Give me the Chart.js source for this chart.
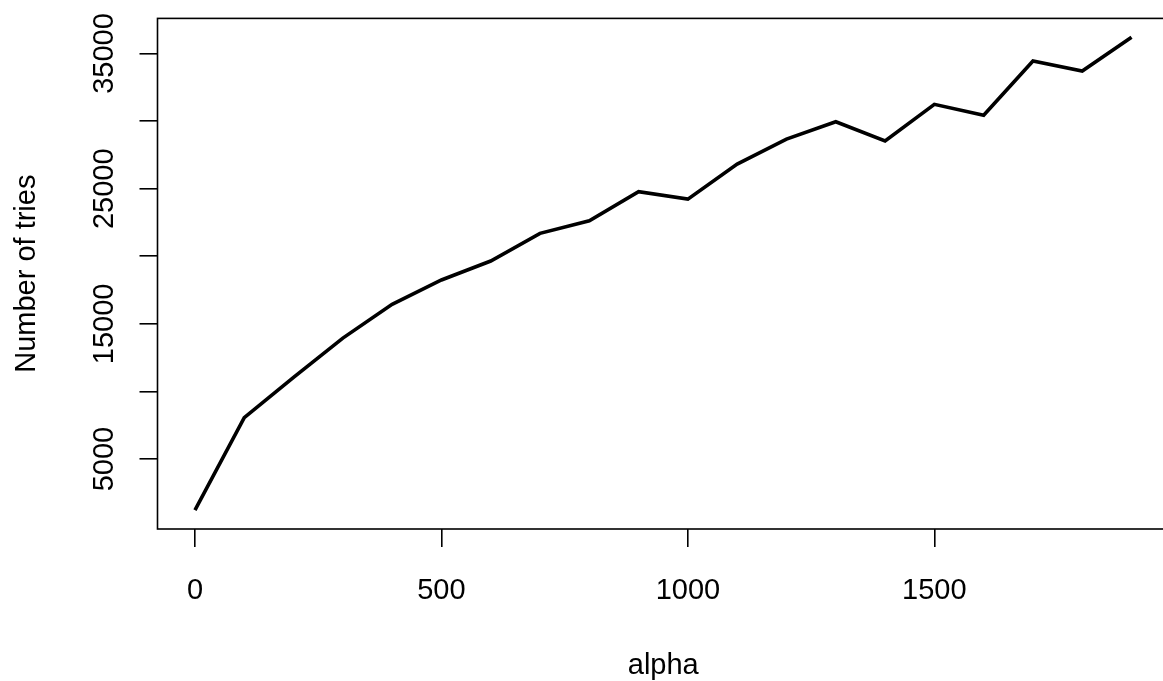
<!DOCTYPE html>
<html lang="en">
<head>
    <meta charset="UTF-8">
    <title>Number of tries vs alpha</title>
    <style>
      body { margin: 0; background: #fff; overflow: hidden; }
      .wrap { width: 1163px; height: 681px; overflow: hidden; }
    </style>
</head>
<body>
  <div class="wrap">
    <canvas id="myChart" width="1175" height="681"></canvas>
  </div>

<script src="https://cdn.jsdelivr.net/npm/chart.js"></script>
<script>

// dados
var lista_alpha = [0, 100, 200, 300, 400, 500, 600, 700, 800, 900, 1000, 1100, 1200, 1300, 1400, 1500, 1600, 1700, 1800, 1900];
var lista_tentativas = [1230, 8060, 11050, 13950, 16450, 18250, 19650, 21700, 22630, 24780, 24230, 26820, 28670, 29950, 28530, 31240, 30430, 34450, 33700, 36200];

var ticks_x = [0, 500, 1000, 1500];
var ticks_y = [5000, 10000, 15000, 20000, 25000, 30000, 35000];
var labels_y = ['5000', '', '15000', '', '25000', '', '35000'];

var fonte = '"Liberation Sans", Arial, Helvetica, sans-serif';

var pontos = [];
for (var i = 0; i < lista_alpha.length; i++) {
  pontos.push({ x: lista_alpha[i], y: lista_tentativas[i] });
}

// moldura e textos no estilo do R
var estilo_r = {
  id: 'estilo_r',
  afterDraw: function (chart) {
    var ctx = chart.ctx;
    var sx = chart.scales.x;
    var sy = chart.scales.y;
    var area = chart.chartArea;

    ctx.save();
    ctx.strokeStyle = '#000';
    ctx.lineWidth = 1.6;
    ctx.strokeRect(area.left, area.top, sx.getPixelForValue(1976) - area.left, area.bottom - area.top);

    ctx.fillStyle = '#000';
    ctx.font = '29px ' + fonte;

    // labels do eixo x
    ctx.textAlign = 'center';
    ctx.textBaseline = 'alphabetic';
    for (var i = 0; i < ticks_x.length; i++) {
      ctx.fillText(String(ticks_x[i]), sx.getPixelForValue(ticks_x[i]), 599);
    }
    ctx.fillText('alpha', (area.left + sx.getPixelForValue(1976)) / 2, 674);

    // labels do eixo y (girados)
    for (var j = 0; j < ticks_y.length; j++) {
      if (labels_y[j] === '') continue;
      ctx.save();
      ctx.translate(113, sy.getPixelForValue(ticks_y[j]));
      ctx.rotate(-Math.PI / 2);
      ctx.fillText(labels_y[j], 0, 0);
      ctx.restore();
    }
    ctx.save();
    ctx.translate(35, (area.top + area.bottom) / 2);
    ctx.rotate(-Math.PI / 2);
    ctx.fillText('Number of tries', 0, 0);
    ctx.restore();

    ctx.restore();
  }
};

const ctx = document.getElementById('myChart');

new Chart(ctx, {
  type: 'line',
  data: {
    datasets: [{
      label: 'Number of tries',
      data: pontos,
      borderColor: '#000',
      borderWidth: 3.6,
      pointRadius: 0,
      tension: 0,
      fill: false
    }]
  },
  options: {
    responsive: false,
    animation: false,
    layout: {
      padding: { top: 18.4, right: 6, bottom: 0, left: 0 }
    },
    scales: {
      x: {
        type: 'linear',
        min: -76,
        max: 1976,
        afterBuildTicks: function (scale) {
          scale.ticks = ticks_x.map(function (v) { return { value: v }; });
        },
        afterFit: function (scale) { scale.height = 152; },
        grid: {
          drawOnChartArea: false,
          drawTicks: true,
          tickLength: 18,
          color: '#000',
          lineWidth: 1.6
        },
        border: { display: false },
        ticks: { display: false }
      },
      y: {
        type: 'linear',
        min: -172,
        max: 37597,
        afterBuildTicks: function (scale) {
          scale.ticks = ticks_y.map(function (v) { return { value: v }; });
        },
        afterFit: function (scale) { scale.width = 157.5; },
        grid: {
          drawOnChartArea: false,
          drawTicks: true,
          tickLength: 18,
          color: '#000',
          lineWidth: 1.6
        },
        border: { display: false },
        ticks: { display: false }
      }
    },
    plugins: {
      legend: { display: false },
      tooltip: { enabled: false }
    }
  },
  plugins: [estilo_r]
});

</script>
</body>
</html>
